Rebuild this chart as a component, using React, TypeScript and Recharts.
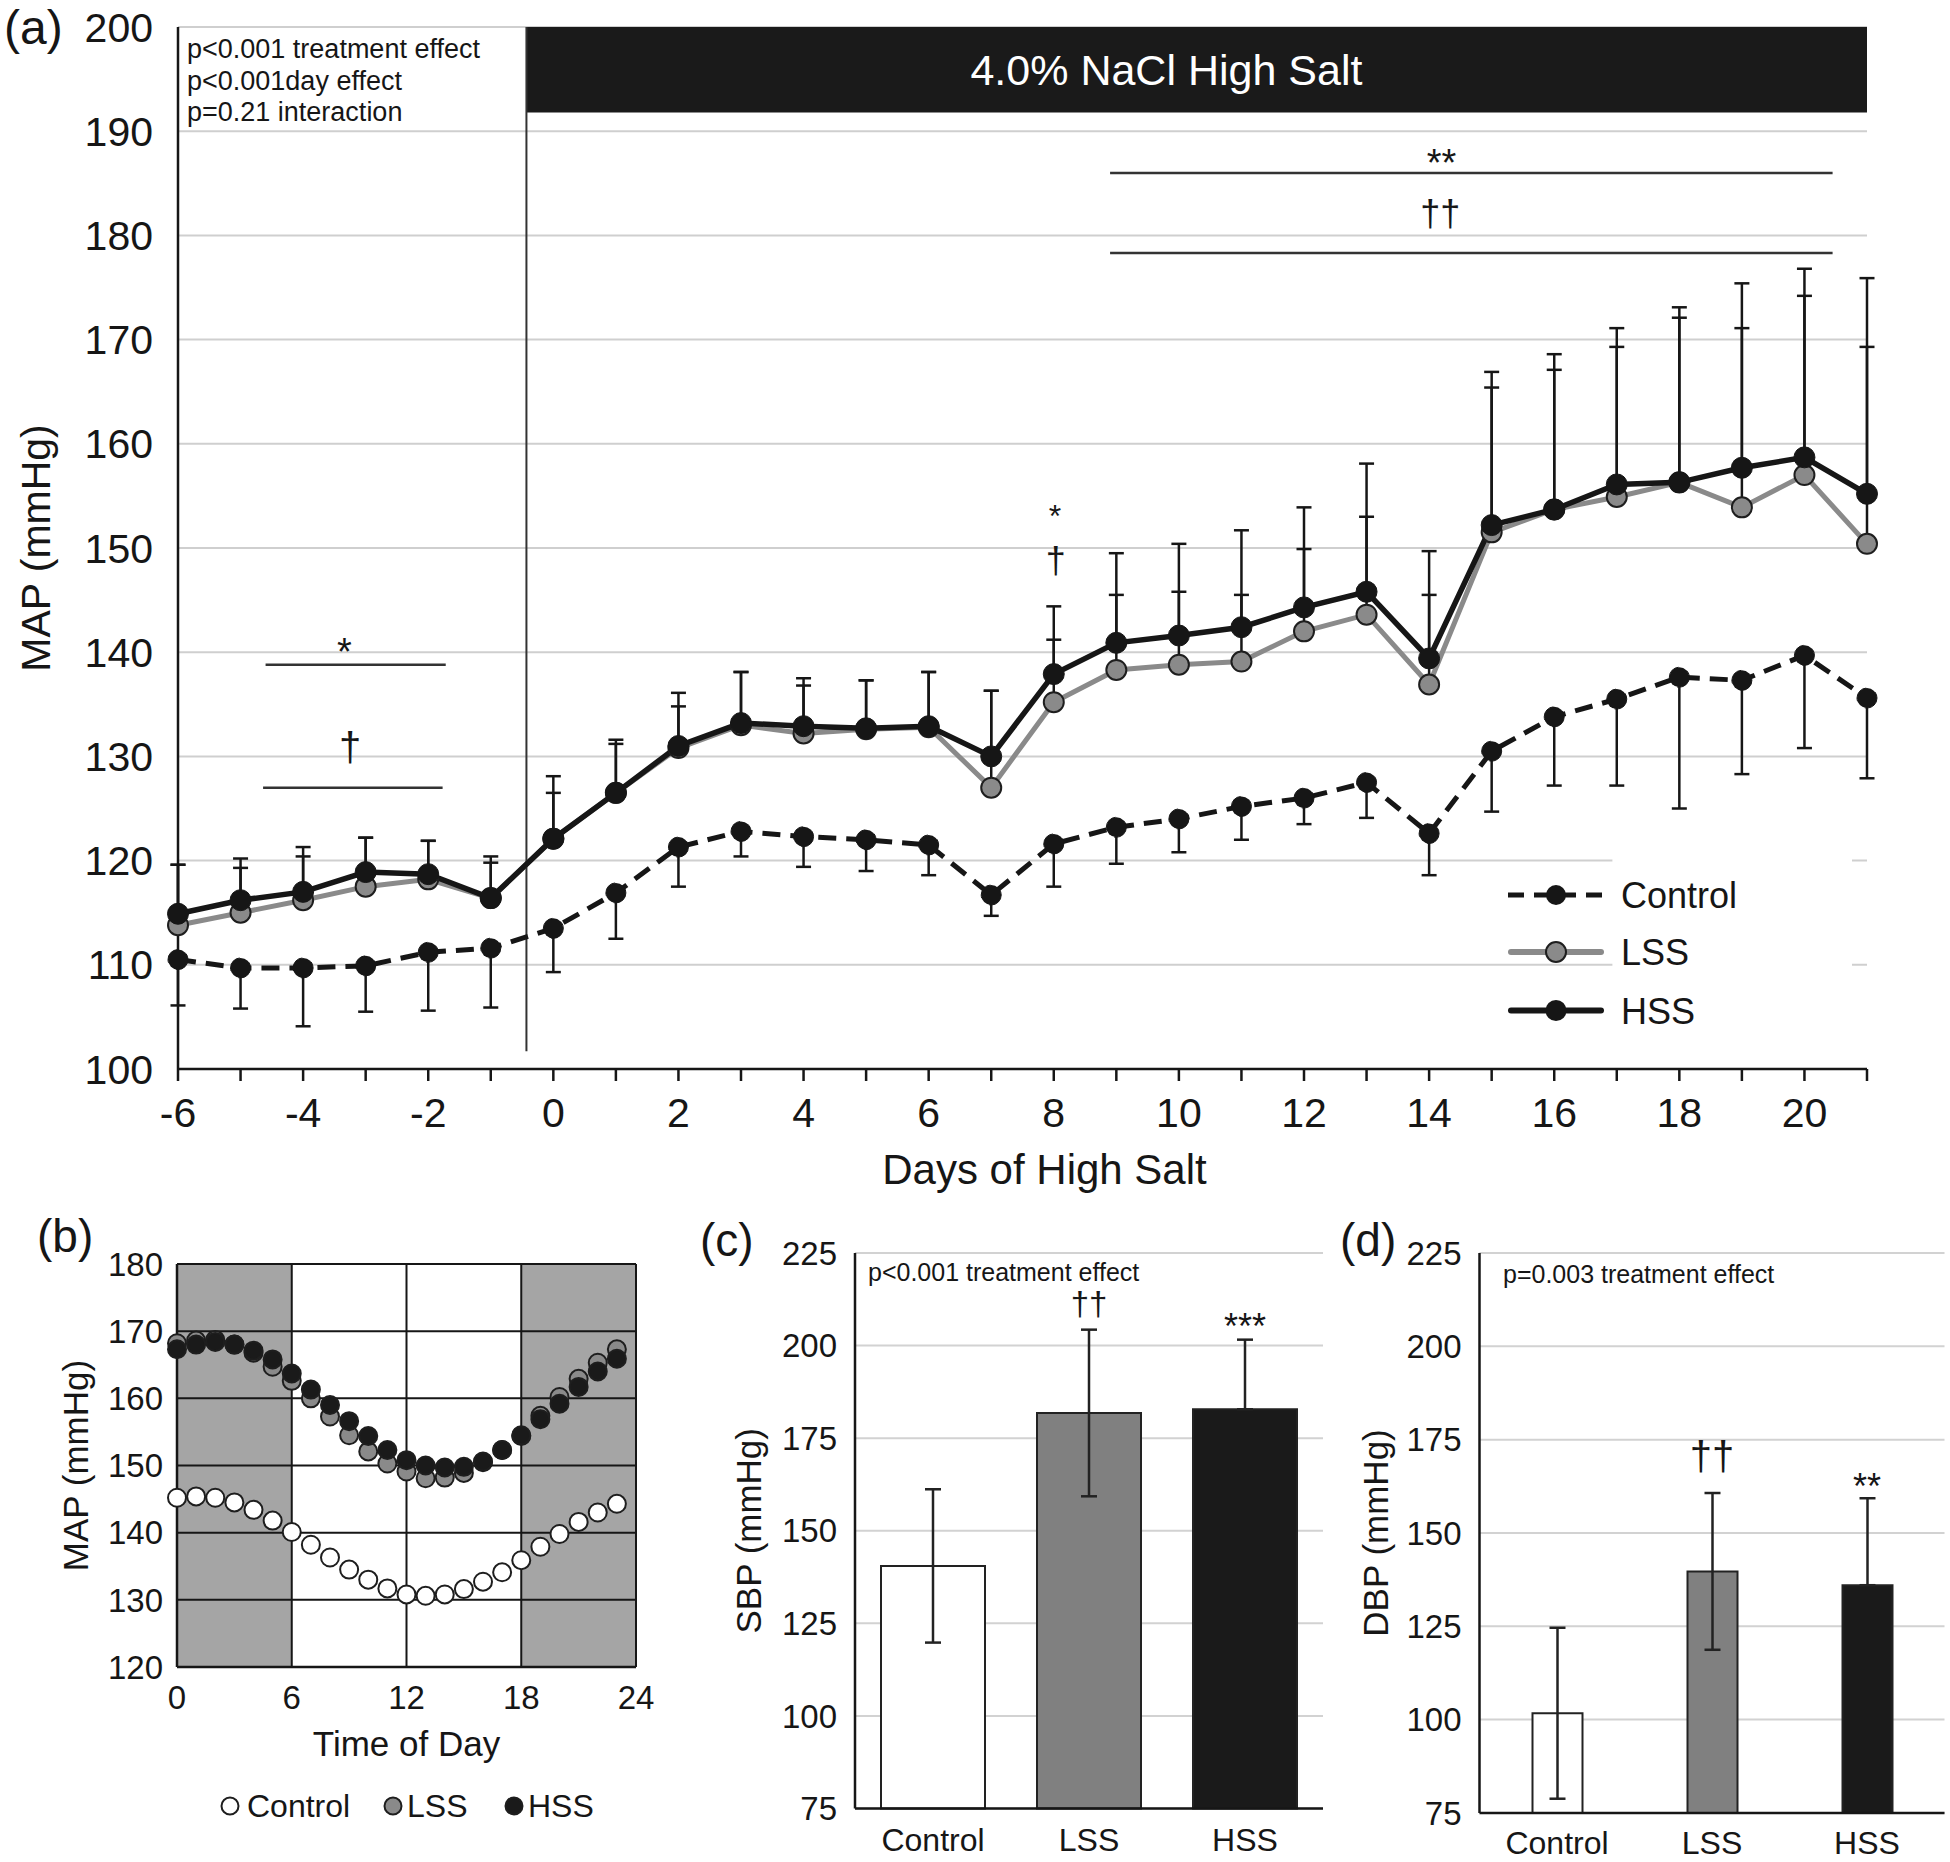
import React from "react";
import {
  LineChart,
  Line,
  ScatterChart,
  Scatter,
  BarChart,
  Bar,
  Cell,
  XAxis,
  YAxis,
  CartesianGrid,
  ErrorBar,
  ReferenceArea,
  ReferenceLine,
  ReferenceDot,
} from "recharts";

const FONT = '"Liberation Sans", Arial, Helvetica, sans-serif';
const INK = "#161616";
const GREY = "#8a8a8a";

// (a) daily MAP, days -6..21
const days = [-6, -5, -4, -3, -2, -1, 0, 1, 2, 3, 4, 5, 6, 7, 8, 9, 10, 11, 12, 13, 14, 15, 16, 17, 18, 19, 20, 21];
const ctrlMap = [110.5, 109.7, 109.7, 109.9, 111.2, 111.6, 113.5, 116.9, 121.3, 122.8, 122.3, 122.0, 121.5, 116.7, 121.6, 123.2, 124.0, 125.2, 126.0, 127.5, 122.6, 130.5, 133.8, 135.5, 137.6, 137.3, 139.7, 135.6];
const lssMap = [113.8, 115.0, 116.2, 117.5, 118.2, 116.4, 122.1, 126.5, 130.8, 133.0, 132.2, 132.6, 132.8, 127.0, 135.2, 138.3, 138.8, 139.1, 142.0, 143.6, 136.9, 151.5, 153.7, 154.9, 156.3, 153.9, 157.0, 150.4];
const hssMap = [114.9, 116.2, 117.0, 118.9, 118.7, 116.4, 122.1, 126.5, 131.0, 133.2, 132.9, 132.7, 132.9, 130.0, 137.9, 140.9, 141.6, 142.4, 144.3, 145.8, 139.4, 152.2, 153.7, 156.1, 156.3, 157.7, 158.7, 155.2];
// error bar ends
const ctrlLow = [106.1, 105.8, 104.1, 105.5, 105.6, 105.9, 109.3, 112.5, 117.5, 120.4, 119.4, 119.0, 118.6, 114.7, 117.5, 119.7, 120.8, 122.0, 123.5, 124.1, 118.6, 124.7, 127.2, 127.2, 125.0, 128.3, 130.8, 127.9];
const lssCap = [119.6, 119.3, 120.4, 122.2, 121.9, 119.8, 126.5, 131.2, 134.8, 138.1, 136.8, 137.3, 138.1, 136.3, 141.2, 145.5, 145.8, 145.5, 149.9, 153.0, 145.5, 165.4, 167.1, 169.3, 172.1, 171.1, 174.2, 169.3];
const hssCap = [119.6, 120.2, 121.3, 122.2, 121.9, 120.4, 128.1, 131.6, 136.1, 138.1, 137.5, 137.3, 138.1, 136.3, 144.4, 149.5, 150.4, 151.7, 153.9, 158.1, 149.7, 166.9, 168.6, 171.1, 173.1, 175.4, 176.8, 175.9];
const mapTicks = [100, 110, 120, 130, 140, 150, 160, 170, 180, 190, 200];

// significance bars and marks in (a)
const sigBars = [
  { x1: -4.6, x2: -1.72, y: 138.8 },
  { x1: -4.64, x2: -1.77, y: 127.0 },
  { x1: 8.9, x2: 20.45, y: 186.0 },
  { x1: 8.9, x2: 20.45, y: 178.3 },
];
const sigMarks = [
  { x: -3.34, y: 140.1, t: "*", s: 38 },
  { x: -3.25, y: 130.9, t: "†", s: 40 },
  { x: 8.02, y: 153.1, t: "*", s: 32 },
  { x: 8.03, y: 148.8, t: "†", s: 36 },
  { x: 14.2, y: 187.0, t: "**", s: 38 },
  { x: 14.18, y: 182.1, t: "††", s: 36 },
];

// (b) time of day
const hours = [0, 1, 2, 3, 4, 5, 6, 7, 8, 9, 10, 11, 12, 13, 14, 15, 16, 17, 18, 19, 20, 21, 22, 23];
const ctrlDay = [145.2, 145.4, 145.2, 144.5, 143.4, 141.8, 140.1, 138.2, 136.3, 134.5, 133.0, 131.7, 130.8, 130.6, 130.8, 131.6, 132.7, 134.1, 135.9, 137.9, 139.8, 141.6, 143.0, 144.3];
const lssDay = [168.2, 168.6, 168.7, 168.0, 166.8, 164.7, 162.6, 160.0, 157.3, 154.5, 152.1, 150.3, 149.1, 148.1, 148.2, 148.9, 150.5, 152.3, 154.4, 157.4, 160.2, 162.9, 165.3, 167.3];
const hssDay = [167.3, 168.0, 168.4, 168.0, 167.1, 165.8, 163.7, 161.3, 159.0, 156.6, 154.4, 152.3, 150.8, 150.0, 149.7, 149.8, 150.6, 152.3, 154.5, 156.9, 159.2, 161.7, 164.0, 165.9];
const hourTicks = [0, 6, 12, 18, 24];
const dayMapTicks = [120, 130, 140, 150, 160, 170, 180];

// (c) SBP and (d) DBP
const groups = ["Control", "LSS", "HSS"];
const sbpMean = [140.5, 181.8, 182.8];
const sbpSd = [20.7, 22.5, 18.8];
const dbpMean = [101.7, 139.7, 136.0];
const dbpSd = [22.9, 21.0, 23.3];
// the lower whisker of the dark HSS bar is not shown
const lowerShown = [true, true, false];
const bpTicks = [75, 100, 125, 150, 175, 200, 225];
const barFills = ["#ffffff", "#808080", "#1a1a1a"];

const dailyRows = days.map((day, i) => ({
  day,
  ctrl: ctrlMap[i],
  lss: lssMap[i],
  hss: hssMap[i],
  ctrlErr: [+(ctrlMap[i] - ctrlLow[i]).toFixed(2), 0],
  lssErr: [0, +(lssCap[i] - lssMap[i]).toFixed(2)],
  hssErr: [0, +(hssCap[i] - hssMap[i]).toFixed(2)],
}));

const pts = (vals: number[]) => hours.map((h, i) => ({ x: h, y: vals[i] }));
const bpRows = (mean: number[], sd: number[]) =>
  groups.map((name, i) => ({ name, value: mean[i], err: [lowerShown[i] ? sd[i] : 0, sd[i]] }));
const sbpRows = bpRows(sbpMean, sbpSd);
const dbpRows = bpRows(dbpMean, dbpSd);

const axisLine = { stroke: INK, strokeWidth: 2.5 };

function dotShape(fill: string) {
  return (p: any) => <circle cx={p.cx} cy={p.cy} r={9} fill={fill} stroke="#1e1e1e" strokeWidth={2} />;
}

function PanelA() {
  return (
    <div style={{ position: "absolute", left: 0, top: 0 }}>
      <LineChart width={1950} height={1200} data={dailyRows} margin={{ top: 27, right: 83, bottom: 11, left: 48 }}>
        <CartesianGrid vertical={false} stroke="#cfcfcf" strokeWidth={2} />
        <XAxis
          type="number"
          dataKey="day"
          domain={[-6, 21]}
          ticks={days}
          interval={0}
          height={120}
          axisLine={axisLine}
          tickLine={{ stroke: INK, strokeWidth: 2.5 }}
          tickSize={12}
          tickMargin={17}
          tick={{ fontSize: 41, fill: INK }}
          tickFormatter={(v: number) => (v % 2 === 0 && v !== 21 ? String(v) : "")}
          label={{ value: "Days of High Salt", position: "insideBottom", offset: 5, dx: 22, fontSize: 42, fill: INK }}
        />
        <YAxis
          domain={[100, 200]}
          ticks={mapTicks}
          width={130}
          axisLine={axisLine}
          tickLine={false}
          tickSize={0}
          tickMargin={25}
          tick={{ fontSize: 41, fill: INK }}
          label={{ value: "MAP (mmHg)", angle: -90, position: "insideLeft", offset: -13, fontSize: 41, fill: INK, style: { textAnchor: "middle" } }}
        />
        <ReferenceArea
          x1={-0.43}
          x2={21}
          y1={191.8}
          y2={200}
          fill="#1a1a1a"
          fillOpacity={1}
          stroke="none"
          label={{ value: "4.0% NaCl High Salt", position: "insideLeft", offset: 444, fill: "#ffffff", fontSize: 43 }}
        />
        <ReferenceArea x1={16.93} x2={20.76} y1={107.5} y2={121.2} fill="#ffffff" fillOpacity={1} stroke="none" />
        <ReferenceLine segment={[{ x: -0.43, y: 101.7 }, { x: -0.43, y: 200 }]} stroke="#333" strokeWidth={2} />
        {sigBars.map((b, i) => (
          <ReferenceLine key={"sb" + i} segment={[{ x: b.x1, y: b.y }, { x: b.x2, y: b.y }]} stroke="#333" strokeWidth={2.5} />
        ))}
        {sigMarks.map((m, i) => (
          <ReferenceDot
            key={"sm" + i}
            x={m.x}
            y={m.y}
            r={1}
            fill="none"
            stroke="none"
            label={{ value: m.t, position: "center", fontSize: m.s, fill: INK }}
          />
        ))}
        <Line
          dataKey="ctrl"
          stroke={INK}
          strokeWidth={5}
          strokeDasharray="18 10"
          dot={{ r: 10, fill: INK, stroke: INK, strokeWidth: 1 }}
          isAnimationActive={false}
        >
          <ErrorBar dataKey="ctrlErr" direction="y" width={7.5} stroke={INK} strokeWidth={2.5} />
        </Line>
        <Line
          dataKey="lss"
          stroke={GREY}
          strokeWidth={5}
          dot={{ r: 10, fill: GREY, stroke: "#1e1e1e", strokeWidth: 2 }}
          isAnimationActive={false}
        >
          <ErrorBar dataKey="lssErr" direction="y" width={7.5} stroke={INK} strokeWidth={2.5} />
        </Line>
        <Line
          dataKey="hss"
          stroke={INK}
          strokeWidth={5.5}
          dot={{ r: 10.5, fill: INK, stroke: INK, strokeWidth: 1 }}
          isAnimationActive={false}
        >
          <ErrorBar dataKey="hssErr" direction="y" width={7.5} stroke={INK} strokeWidth={2.5} />
        </Line>
      </LineChart>
    </div>
  );
}

function PanelB() {
  return (
    <div style={{ position: "absolute", left: 0, top: 1230 }}>
      <ScatterChart width={700} height={540} margin={{ top: 34, right: 64, bottom: 13, left: 77 }}>
        <XAxis
          type="number"
          dataKey="x"
          domain={[0, 24]}
          ticks={hourTicks}
          interval={0}
          height={90}
          axisLine={axisLine}
          tickLine={false}
          tickSize={0}
          tickMargin={19}
          tick={{ fontSize: 33, fill: INK }}
          label={{ value: "Time of Day", position: "insideBottom", offset: 1, fontSize: 35, fill: INK }}
        />
        <YAxis
          type="number"
          dataKey="y"
          domain={[120, 180]}
          ticks={dayMapTicks}
          width={100}
          axisLine={axisLine}
          tickLine={false}
          tickSize={0}
          tickMargin={14}
          tick={{ fontSize: 33, fill: INK }}
          label={{ value: "MAP (mmHg)", angle: -90, position: "insideLeft", offset: -1, fontSize: 35, fill: INK, style: { textAnchor: "middle" } }}
        />
        <ReferenceArea x1={0} x2={6} y1={120} y2={180} fill="#a5a5a5" fillOpacity={1} stroke="none" />
        <ReferenceArea x1={18} x2={24} y1={120} y2={180} fill="#a5a5a5" fillOpacity={1} stroke="none" />
        {dayMapTicks.slice(1).map((v) => (
          <ReferenceLine key={"h" + v} y={v} stroke={INK} strokeWidth={2} />
        ))}
        {hourTicks.slice(1).map((v) => (
          <ReferenceLine key={"v" + v} x={v} stroke={INK} strokeWidth={2} />
        ))}
        <Scatter data={pts(ctrlDay)} shape={dotShape("#ffffff")} isAnimationActive={false} />
        <Scatter data={pts(lssDay)} shape={dotShape(GREY)} isAnimationActive={false} />
        <Scatter data={pts(hssDay)} shape={dotShape("#1a1a1a")} isAnimationActive={false} />
      </ScatterChart>
    </div>
  );
}

function BpPanel(props: {
  left: number;
  width: number;
  marginLeft: number;
  marginRight: number;
  marginBottom: number;
  xHeight: number;
  tickMargin: number;
  barSize: number;
  rows: { name: string; value: number; err: number[] }[];
  title: string;
  titleOffset: number;
  marks: { x: string; y: number; t: string; s: number }[];
}) {
  return (
    <div style={{ position: "absolute", left: props.left, top: 1220 }}>
      <BarChart
        width={props.width}
        height={642}
        data={props.rows}
        margin={{ top: 33, right: props.marginRight, bottom: props.marginBottom, left: props.marginLeft }}
      >
        <CartesianGrid vertical={false} stroke="#d2d2d2" strokeWidth={2} />
        <XAxis
          dataKey="name"
          height={props.xHeight}
          axisLine={axisLine}
          tickLine={false}
          tickSize={0}
          tickMargin={props.tickMargin}
          tick={{ fontSize: 32, fill: INK }}
        />
        <YAxis
          domain={[75, 225]}
          ticks={bpTicks}
          width={100}
          axisLine={axisLine}
          tickLine={false}
          tickSize={0}
          tickMargin={18}
          tick={{ fontSize: 33, fill: INK }}
          label={{ value: props.title, angle: -90, position: "insideLeft", offset: props.titleOffset, fontSize: 35, fill: INK, style: { textAnchor: "middle" } }}
        />
        <Bar dataKey="value" barSize={props.barSize} stroke="#222" strokeWidth={2} isAnimationActive={false}>
          {props.rows.map((r, i) => (
            <Cell key={r.name} fill={barFills[i]} />
          ))}
          <ErrorBar dataKey="err" direction="y" width={8} stroke="#222" strokeWidth={2.5} />
        </Bar>
        {props.marks.map((m, i) => (
          <ReferenceDot
            key={"m" + i}
            x={m.x}
            y={m.y}
            r={1}
            fill="none"
            stroke="none"
            label={{ value: m.t, position: "center", fontSize: m.s, fill: INK }}
          />
        ))}
      </BarChart>
    </div>
  );
}

function Overlay() {
  const t = { fill: INK, fontFamily: FONT };
  return (
    <svg width={1950} height={1862} style={{ position: "absolute", left: 0, top: 0, pointerEvents: "none" }}>
      <text x={4} y={44} fontSize={48} {...t}>(a)</text>
      <text x={37} y={1252} fontSize={46} {...t}>(b)</text>
      <text x={700} y={1256} fontSize={46} {...t}>(c)</text>
      <text x={1340} y={1256} fontSize={46} {...t}>(d)</text>

      <text x={187} y={58} fontSize={27} {...t}>p&lt;0.001 treatment effect</text>
      <text x={187} y={89.6} fontSize={27} {...t}>p&lt;0.001day effect</text>
      <text x={187} y={121.3} fontSize={27} {...t}>p=0.21 interaction</text>
      <text x={868} y={1281} fontSize={25} {...t}>p&lt;0.001 treatment effect</text>
      <text x={1503} y={1282.5} fontSize={25} {...t}>p=0.003 treatment effect</text>

      {/* legend (a) */}
      <line x1={1508} x2={1604} y1={895} y2={895} stroke={INK} strokeWidth={5} strokeDasharray="16 10" />
      <circle cx={1556} cy={895} r={10} fill={INK} />
      <text x={1621} y={908} fontSize={36} {...t}>Control</text>
      <line x1={1511} x2={1601} y1={952} y2={952} stroke={GREY} strokeWidth={6} strokeLinecap="round" />
      <circle cx={1556} cy={952} r={10} fill={GREY} stroke="#1e1e1e" strokeWidth={2} />
      <text x={1621} y={965} fontSize={36} {...t}>LSS</text>
      <line x1={1511} x2={1601} y1={1010.5} y2={1010.5} stroke={INK} strokeWidth={6} strokeLinecap="round" />
      <circle cx={1556} cy={1010.5} r={10.5} fill={INK} />
      <text x={1621} y={1023.5} fontSize={36} {...t}>HSS</text>

      {/* legend (b) */}
      <circle cx={230} cy={1806} r={8.5} fill="#ffffff" stroke="#1e1e1e" strokeWidth={2} />
      <text x={247} y={1817} fontSize={32} {...t}>Control</text>
      <circle cx={393} cy={1806} r={8.5} fill={GREY} stroke="#1e1e1e" strokeWidth={2} />
      <text x={407} y={1817} fontSize={32} {...t}>LSS</text>
      <circle cx={514} cy={1806} r={8.5} fill="#1a1a1a" stroke="#1e1e1e" strokeWidth={2} />
      <text x={528} y={1817} fontSize={32} {...t}>HSS</text>
    </svg>
  );
}

export default function App() {
  return (
    <div style={{ position: "absolute", left: 0, top: 0, width: 1950, height: 1862, background: "#fff", fontFamily: FONT }}>
      <PanelA />
      <PanelB />
      <BpPanel
        left={680}
        width={660}
        marginLeft={75}
        marginRight={17}
        marginBottom={3.5}
        xHeight={50}
        tickMargin={20}
        barSize={104}
        rows={sbpRows}
        title="SBP (mmHg)"
        titleOffset={-6}
        marks={[
          { x: "LSS", y: 211.3, t: "††", s: 33 },
          { x: "HSS", y: 205.3, t: "***", s: 36 },
        ]}
      />
      <BpPanel
        left={1330}
        width={620}
        marginLeft={49.5}
        marginRight={5.5}
        marginBottom={1.1}
        xHeight={48}
        tickMargin={18}
        barSize={50}
        rows={dbpRows}
        title="DBP (mmHg)"
        titleOffset={-3.5}
        marks={[
          { x: "LSS", y: 170.8, t: "††", s: 40 },
          { x: "HSS", y: 162.4, t: "**", s: 36 },
        ]}
      />
      <Overlay />
    </div>
  );
}
